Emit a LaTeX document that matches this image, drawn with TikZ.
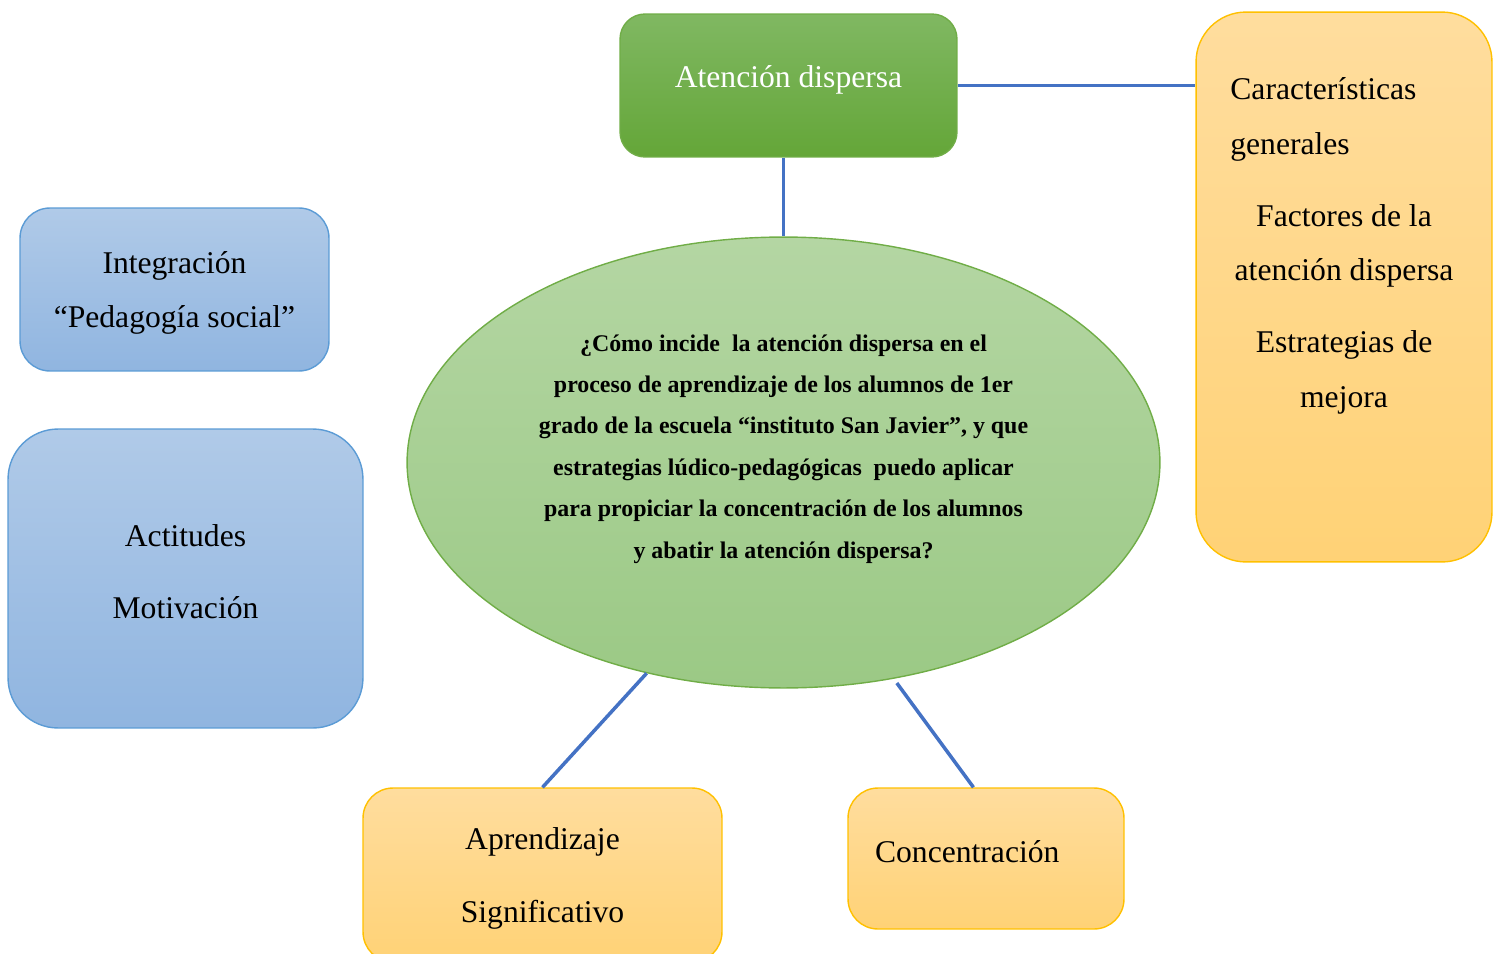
\documentclass[tikz,border=0pt]{standalone}
\usepackage{fontspec}
\setmainfont{Liberation Serif}
\usetikzlibrary{shapes.geometric, positioning}
\definecolor{linkblue}{HTML}{4472C4}
\definecolor{greentop}{HTML}{80B862}
\definecolor{greenbot}{HTML}{64A638}
\definecolor{greenline}{HTML}{70AD47}
\definecolor{ovaltop}{HTML}{B4D6A3}
\definecolor{ovalbot}{HTML}{9BC985}
\definecolor{orangetop}{HTML}{FFDD9E}
\definecolor{orangebot}{HTML}{FFD276}
\definecolor{orangeline}{HTML}{FFC000}
\definecolor{bluetop}{HTML}{B0CAE8}
\definecolor{bluebot}{HTML}{90B5E0}
\definecolor{blueline}{HTML}{5B9BD5}

\begin{document}
\begin{tikzpicture}[x=0.02cm, y=-0.02cm,
    link/.style={draw=linkblue, line width=2pt},
    greenbox/.style={draw=greenline, line width=0.8pt, shading=axis, top color=greentop, bottom color=greenbot, rounded corners=0.5cm, text=white},
    orangebox/.style={draw=orangeline, line width=0.8pt, shading=axis, top color=orangetop, bottom color=orangebot, rounded corners=0.6cm},
    bluebox/.style={draw=blueline, line width=0.8pt, shading=axis, top color=bluetop, bottom color=bluebot, rounded corners=0.6cm},
    big/.style={font=\fontsize{18}{31}\selectfont, align=center}]
    \useasboundingbox (0,0) rectangle (1500,953);
    \node[greenbox, big, minimum width=6.74cm, minimum height=2.86cm, text depth=0.36cm] (top) at (788.5, 85.5) {Atención dispersa};
    \node[ellipse, draw=greenline, line width=0.8pt, shading=axis, top color=ovaltop, bottom color=ovalbot, minimum width=15.06cm, minimum height=9.02cm, inner sep=0pt] (q) at (783.5, 462.5) {};
    \node[font=\bfseries\fontsize{13.6}{23.6}\selectfont, align=center] (qtext) at (783.5, 449) {¿Cómo incide\ \ la atención dispersa en el\\proceso de aprendizaje de los alumnos de 1er\\grado de la escuela “instituto San Javier”, y que\\estrategias lúdico-pedagógicas\ \ puedo aplicar\\para propiciar la concentración de los alumnos\\y abatir la atención dispersa?};
    \node[orangebox, rounded corners=1cm, minimum width=5.92cm, minimum height=11cm] (facts) at (1344, 287) {};
    \node[big, align=left, anchor=west, inner sep=0pt] (gen) at (1230, 119.5) {Características\\generales};
    \node[big, inner sep=0pt] (fac) at (1344, 246) {Factores de la\\atención dispersa};
    \node[big, inner sep=0pt] (est) at (1344, 372.5) {Estrategias de\\mejora};
    \node[bluebox, big, minimum width=6.18cm, minimum height=3.26cm, text depth=0cm] (integ) at (174.5, 289.5) {Integración\\“Pedagogía social”};
    \node[bluebox, rounded corners=1cm, big, font=\fontsize{18}{41}\selectfont, minimum width=7.1cm, minimum height=5.98cm, text depth=0.28cm] (act) at (185.5, 578.5) {Actitudes\\Motivación};
    \node[orangebox, big, font=\fontsize{18}{41}\selectfont, minimum width=7.18cm, minimum height=3.48cm, text depth=-0.14cm] (apr) at (542.5, 875) {Aprendizaje\\Significativo};
    \node[orangebox, big, align=left, minimum width=5.52cm, minimum height=2.82cm, inner xsep=0.54cm, text width=4.44cm, text depth=0.3cm] (conc) at (986, 858.5) {Concentración};
    \draw[link] (top.south -| q.north) -- (q.north);
    \draw[link] (top.east) -- (top.east -| facts.west);
    \draw[link] (q.-123) -- (apr.north);
    \draw[link, shorten <=3pt] (q.-63) -- (conc.100);
\end{tikzpicture}
\end{document}
